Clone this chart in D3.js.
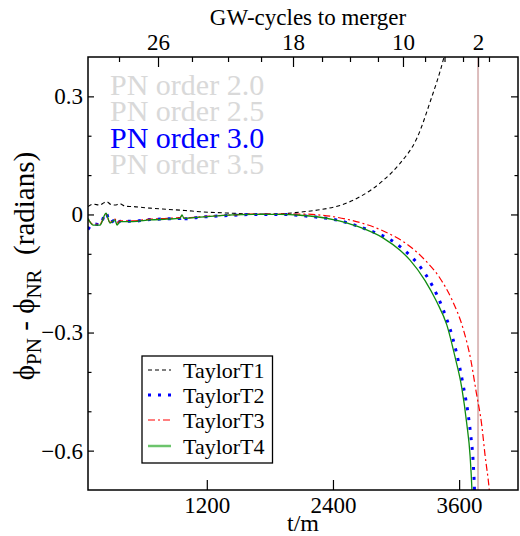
<!DOCTYPE html>
<html>
<head>
<meta charset="utf-8">
<script src="https://cdn.jsdelivr.net/npm/d3@7"></script>
<style>
  body { margin: 0; background: #fff; }
  text { font-family: 'Liberation Serif', 'Times New Roman', Times, serif; }
</style>
</head>
<body>
<div id="chart"></div>
<script>
// phase difference vs t/m, one array of [t, dphi] per Taylor approximant
const taylorT1 = [
    [70, 0.020], [118, 0.026], [184, 0.024], [222, 0.030], [251, 0.032], [289, 0.025],
    [327, 0.024], [374, 0.027], [422, 0.021], [498, 0.020], [660, 0.016], [821, 0.013],
    [993, 0.010], [1135, 0.007], [1449, 0.003], [1640, 0.001], [1849, 0.001], [2087, 0.006],
    [2277, 0.012], [2467, 0.023], [2657, 0.045], [2876, 0.086], [3038, 0.130], [3199, 0.194],
    [3323, 0.285], [3456, 0.400], [3540, 0.500]
];
const taylorT2 = [
    [70, -0.038], [118, -0.024], [184, -0.026], [241, 0.004], [279, -0.020], [327, -0.015],
    [346, -0.024], [374, -0.017], [498, -0.017], [660, -0.013], [821, -0.011], [945, -0.010],
    [964, -0.003], [983, -0.011], [1135, -0.007], [1449, -0.002], [1640, 0.000], [1900, 0.000],
    [2182, -0.005], [2449, -0.015], [2721, -0.038], [2974, -0.069], [3117, -0.100], [3235, -0.135],
    [3339, -0.178], [3450, -0.243], [3539, -0.314], [3602, -0.384], [3640, -0.436], [3687, -0.510],
    [3710, -0.560], [3735, -0.635], [3746, -0.700], [3752, -0.760]
];
const taylorT3 = [
    [70, -0.012], [118, -0.025], [184, -0.024], [241, 0.000], [279, -0.020], [327, -0.012],
    [346, -0.022], [374, -0.016], [498, -0.016], [660, -0.012], [821, -0.010], [945, -0.008],
    [964, -0.002], [983, -0.009], [1135, -0.006], [1449, -0.001], [1640, 0.001], [2087, 0.001],
    [2562, -0.014], [2879, -0.042], [3117, -0.078], [3276, -0.116], [3418, -0.162], [3529, -0.215],
    [3640, -0.292], [3710, -0.368], [3763, -0.452], [3815, -0.535], [3846, -0.610], [3887, -0.700],
    [3900, -0.740]
];
const taylorT4 = [
    [70, -0.010], [118, -0.027], [184, -0.027], [241, 0.003], [279, -0.022], [327, -0.014],
    [346, -0.027], [374, -0.018], [498, -0.018], [660, -0.014], [821, -0.012], [945, -0.010],
    [964, -0.001], [983, -0.010], [1135, -0.007], [1449, -0.001], [1640, 0.000], [1900, 0.000],
    [2087, -0.002], [2403, -0.013], [2641, -0.031], [2879, -0.060], [3038, -0.091], [3133, -0.116],
    [3276, -0.168], [3387, -0.222], [3482, -0.280], [3561, -0.362], [3625, -0.440], [3672, -0.530],
    [3704, -0.612], [3722, -0.700], [3730, -0.760]
];

const seriesNames = ['TaylorT1', 'TaylorT2', 'TaylorT3', 'TaylorT4'];
const pnOrders = ['PN order 2.0', 'PN order 2.5', 'PN order 3.0', 'PN order 3.5'];
const activeOrder = 'PN order 3.0';

const xTicks = [1200, 2400, 3600];
const yMajor = [0.3, 0, -0.3, -0.6];
const yMinor = [0.2, 0.1, -0.1, -0.2, -0.4, -0.5];
// GW cycles remaining and the t/m where each one falls
const cycleLabels = [28, 26, 24, 22, 20, 18, 16, 14, 12, 10, 8, 6, 4, 2, 0];
const cycleTimes = [365, 736, 1059, 1402, 1716, 2020, 2296, 2562, 2828, 3066, 3276, 3461, 3637, 3780, 3884];
const cycleMajor = [26, 18, 10, 2];
const mergerTime = 3780;

const width = 520, height = 536;
const margin = { top: 57, right: 2, bottom: 46, left: 88 };
const serif = "'Liberation Serif', 'Times New Roman', Times, serif";

const svg = d3.select('#chart').append('svg')
    .attr('width', width)
    .attr('height', height)
    .attr('font-family', serif);

const x = d3.scaleLinear().domain([70, 4160]).range([margin.left, width - margin.right]);
const y = d3.scaleLinear().domain([-0.7, 0.4]).range([height - margin.bottom, margin.top]);

svg.append('clipPath').attr('id', 'plot-clip')
    .append('rect')
    .attr('x', x.range()[0]).attr('y', y.range()[1])
    .attr('width', x.range()[1] - x.range()[0])
    .attr('height', y.range()[0] - y.range()[1]);

const plot = svg.append('g').attr('clip-path', 'url(#plot-clip)');

// merger marker
plot.append('line')
    .attr('x1', x(mergerTime)).attr('x2', x(mergerTime))
    .attr('y1', y.range()[1]).attr('y2', y.range()[0])
    .attr('stroke', '#dcbcbc')
    .attr('stroke-width', 2);

const styles = [
    { color: '#000000', width: 1.1, dash: '4,3' },
    { color: '#0000ff', width: 3, dash: '3,7' },
    { color: '#ff0000', width: 1.2, dash: '7,3,2,3' },
    { color: '#108c10', width: 1.3, dash: null }
];
const allSeries = [taylorT1, taylorT2, taylorT3, taylorT4];

const line = d3.line()
    .x(d => x(d[0]))
    .y(d => y(d[1]))
    .curve(d3.curveMonotoneX);

allSeries.forEach((data, i) => {
    plot.append('path')
        .datum(data)
        .attr('fill', 'none')
        .attr('stroke', styles[i].color)
        .attr('stroke-width', styles[i].width)
        .attr('stroke-dasharray', styles[i].dash)
        .attr('d', line);
});

// axes, ticks pointing inward
function clean(g) {
    g.attr('font-family', serif).attr('font-size', 23);
    g.select('.domain').remove();
}

svg.append('g')
    .attr('transform', `translate(0,${y.range()[0]})`)
    .call(d3.axisBottom(x).tickValues(xTicks).tickSize(-10).tickPadding(7).tickFormat(d3.format('d')))
    .call(clean);

svg.append('g')
    .attr('transform', `translate(${x.range()[0]},0)`)
    .call(d3.axisLeft(y).tickValues(yMajor).tickSize(-6).tickPadding(5).tickFormat(d => d === 0 ? '0' : d3.format('.1f')(d)))
    .call(clean);

svg.append('g')
    .attr('transform', `translate(${x.range()[0]},0)`)
    .call(d3.axisLeft(y).tickValues(yMinor).tickSize(-3.5).tickFormat(''))
    .call(clean);

svg.append('g')
    .attr('transform', `translate(${x.range()[1]},0)`)
    .call(d3.axisRight(y).tickValues(yMajor).tickSize(-7).tickFormat(''))
    .call(clean);

svg.append('g')
    .attr('transform', `translate(${x.range()[1]},0)`)
    .call(d3.axisRight(y).tickValues(yMinor).tickSize(-3.5).tickFormat(''))
    .call(clean);

const cycleAt = new Map(cycleTimes.map((t, i) => [t, cycleLabels[i]]));
const majorTimes = cycleTimes.filter((t, i) => cycleMajor.includes(cycleLabels[i]));
const minorTimes = cycleTimes.filter((t, i) => !cycleMajor.includes(cycleLabels[i]));

svg.append('g')
    .attr('transform', `translate(0,${y.range()[1]})`)
    .call(d3.axisTop(x).tickValues(majorTimes).tickSize(-10).tickPadding(7).tickFormat(t => cycleAt.get(t)))
    .call(clean);

svg.append('g')
    .attr('transform', `translate(0,${y.range()[1]})`)
    .call(d3.axisTop(x).tickValues(minorTimes).tickSize(-5).tickFormat(''))
    .call(clean);

svg.selectAll('.tick line').attr('stroke', '#000').attr('stroke-width', 1.2);
svg.selectAll('.tick text').attr('fill', '#000');

// frame
svg.append('rect')
    .attr('x', x.range()[0]).attr('y', y.range()[1])
    .attr('width', x.range()[1] - x.range()[0])
    .attr('height', y.range()[0] - y.range()[1])
    .attr('fill', 'none')
    .attr('stroke', '#000')
    .attr('stroke-width', 1.5);

// axis titles
svg.append('text')
    .attr('x', 308).attr('y', 25)
    .attr('text-anchor', 'middle')
    .attr('font-size', '23px')
    .text('GW-cycles to merger');

svg.append('text')
    .attr('x', (x.range()[0] + x.range()[1]) / 2).attr('y', 531)
    .attr('text-anchor', 'middle')
    .attr('font-size', '24px')
    .text('t/m');

const yLabel = svg.append('text')
    .attr('transform', 'translate(34,266) rotate(-90)')
    .attr('text-anchor', 'middle')
    .attr('font-size', '29px');
yLabel.append('tspan').text('\u03D5');
yLabel.append('tspan').attr('font-size', '21px').attr('dy', 7).text('PN');
yLabel.append('tspan').attr('dy', -7).text(' - \u03D5');
yLabel.append('tspan').attr('font-size', '21px').attr('dy', 7).text('NR');
yLabel.append('tspan').attr('dy', -7).text('\u00A0\u00A0(radians)');

// PN order labels
svg.selectAll('text.pn')
    .data(pnOrders)
    .join('text')
    .attr('class', 'pn')
    .attr('x', 110)
    .attr('y', (d, i) => 94.5 + i * 26.6)
    .attr('font-size', '30px')
    .attr('fill', d => d === activeOrder ? '#0000ff' : '#d9d9d9')
    .text(d => d);

// legend
const legend = svg.append('g');
legend.append('rect')
    .attr('x', 142).attr('y', 356)
    .attr('width', 130.5).attr('height', 107)
    .attr('fill', '#fff')
    .attr('stroke', '#000')
    .attr('stroke-width', 1.3);

const legendRowY = [370, 395, 420, 446];
seriesNames.forEach((name, i) => {
    legend.append('line')
        .attr('x1', 148).attr('x2', 171)
        .attr('y1', legendRowY[i]).attr('y2', legendRowY[i])
        .attr('stroke', i === 3 ? '#6cc46c' : styles[i].color)
        .attr('stroke-width', i === 3 ? 2.5 : styles[i].width)
        .attr('stroke-dasharray', styles[i].dash);
    legend.append('text')
        .attr('x', 183).attr('y', legendRowY[i])
        .attr('dy', '0.35em')
        .attr('font-size', '22px')
        .text(name);
});
</script>
</body>
</html>
